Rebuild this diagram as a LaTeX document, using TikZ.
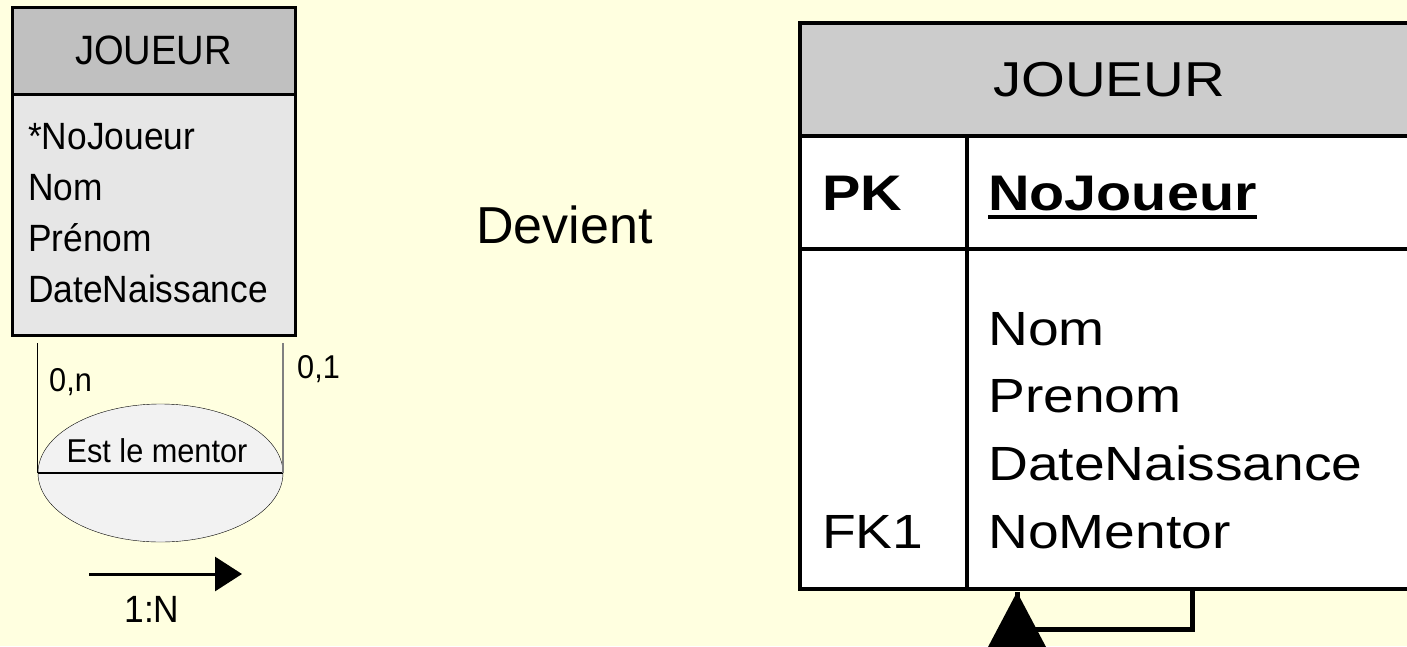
\documentclass[tikz,border=0pt]{standalone}
\usepackage{fontspec}
\setmainfont{Liberation Sans}
\newfontfamily\narrowsans[FakeStretch=0.93]{Liberation Sans}
\newfontfamily\widesans[FakeStretch=1.15]{Liberation Sans}
\usepackage{xcolor}
\usetikzlibrary{shapes,arrows,arrows.meta,positioning}
\definecolor{bgyellow}{HTML}{FFFFE0}
\definecolor{headgray}{HTML}{C0C0C0}
\definecolor{bodygray}{HTML}{E6E6E6}
\definecolor{ovalgray}{HTML}{F2F2F2}
\definecolor{tablegray}{HTML}{CCCCCC}

\begin{document}
\begin{tikzpicture}[x=1pt,y=-1pt]
    \tikzstyle{entbox} = [rectangle, draw, line width=3pt, outer sep=0pt, inner sep=0pt, minimum width=283]
    \tikzstyle{cell} = [rectangle, draw, line width=4pt, outer sep=0pt, inner sep=0pt, anchor=north west]
    \tikzstyle{lbl} = [inner sep=0pt, anchor=base west]
    \tikzstyle{ltext} = [lbl, font=\narrowsans\fontsize{38}{45}\selectfont]
    \tikzstyle{card} = [lbl, font=\narrowsans\fontsize{33}{39}\selectfont]
    \tikzstyle{rtext} = [lbl, font=\widesans\fontsize{48}{57}\selectfont]
    \tikzstyle{rbold} = [lbl, font=\widesans\bfseries\fontsize{50}{60}\selectfont]
    \tikzstyle{selfline} = [line width=5pt]

    \useasboundingbox (0,0) rectangle (1407,646);
    \fill[bgyellow] (0,0) rectangle (1407,646);

    % entite (avant)
    \node [entbox, fill=headgray, minimum height=87, anchor=north west, font=\narrowsans\fontsize{41}{49}\selectfont] (enthead) at (12,7) {JOUEUR};
    \node [entbox, fill=bodygray, minimum height=241, below=0pt of enthead] (entbody) {};
    \foreach \attr [count=\i] in {*NoJoueur, Nom, Prénom, DateNaissance}
        \node [ltext] (entattr\i) at (28,{149+51*(\i-1)}) {\attr};

    % association
    \node [ellipse, draw, fill=ovalgray, minimum width=245, minimum height=138, inner sep=0pt] (assoc) at (160.5,473) {};
    \draw [line width=2.5pt] (assoc.west) -- (assoc.east);
    \node [card, anchor=base] (assoclbl) at (157,462) {Est le mentor};
    \draw [line width=1.2pt] ([yshift=-8pt]entbody.south -| assoc.west) -- (assoc.west);
    \draw [line width=1.5pt, gray] ([yshift=-8pt]entbody.south -| assoc.east) -- (assoc.east);
    \node [card] (cardn) at (49,391) {0,n};
    \node [card] (cardone) at (297,378) {0,1};

    \coordinate (arrstart) at (89,574);
    \coordinate (arrend) at (242,574);
    \draw [line width=3pt, -{Triangle[length=27pt,width=34pt]}] (arrstart) -- (arrend);
    \node [ltext, anchor=base] (ratio) at (152,622) {1:N};

    \node [lbl, font=\fontsize{52}{62}\selectfont] (devient) at (476,243) {Devient};

    % table (apres)
    \node [cell, fill=tablegray, minimum width=618, minimum height=113, font=\widesans\fontsize{49}{58}\selectfont] (thead) at (800,23) {JOUEUR};
    \node [cell, fill=white, minimum width=167, minimum height=113] (pkkey) at (thead.south west) {};
    \node [cell, fill=white, minimum width=451, minimum height=113] (pkname) at (pkkey.north east) {};
    \node [cell, fill=white, minimum width=167, minimum height=340] (fkkey) at (pkkey.south west) {};
    \node [cell, fill=white, minimum width=451, minimum height=340] (fkname) at (fkkey.north east) {};

    \node [rbold] (pklbl) at (822,210) {PK};
    \node [rbold] (pkattr) at (988,210) {NoJoueur};
    \draw [line width=3.5pt] ([yshift=-7pt]pkattr.base west) -- ([yshift=-7pt]pkattr.base east);
    \foreach \attr [count=\i] in {Nom, Prenom, DateNaissance, NoMentor}
        \node [rtext] (tattr\i) at (988,{345+67.7*(\i-1)}) {\attr};
    \node [rtext] (fklbl) at (822,548) {FK1};

    % lien reflexif
    \coordinate (tip) at ([xshift=50pt,yshift=-3pt]fkname.south west);
    \draw [selfline] (fkname.south) -- ++(0,40) -| (tip);
    \fill (tip) -- ++(-48,91) -- ++(96,0) -- cycle;
\end{tikzpicture}
\end{document}
